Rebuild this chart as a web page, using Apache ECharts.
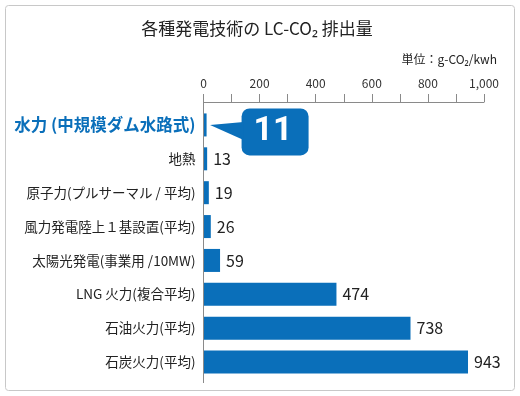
<!DOCTYPE html>
<html><head><meta charset="utf-8">
<script src="https://cdn.jsdelivr.net/npm/echarts@6/dist/echarts.min.js"></script>
<style>html,body{margin:0;padding:0;background:#fff}#c{width:520px;height:396px}</style>
</head><body><div id="c"></div>
<script>
const categories = ['水力 (中規模ダム水路式)','地熱','原子力(プルサーマル / 平均)','風力発電陸上１基設置(平均)','太陽光発電(事業用 /10MW)','LNG 火力(複合平均)','石油火力(平均)','石炭火力(平均)'];
const values = [11, 13, 19, 26, 59, 474, 738, 943];
const titleText = '各種発電技術の LC-CO₂ 排出量';
const unitText = '単位：g-CO₂/kwh';
const FONT = '"Noto Sans CJK JP", "Noto Sans", sans-serif';
const BLUE = '#0a6fba';

const chart = echarts.init(document.getElementById('c'));
chart.setOption({
  animation: false,
  textStyle: {fontFamily: FONT},
  title: [
    {text: titleText, left: 252, textAlign: 'center', top: 15, textStyle: {fontSize: 17, fontWeight: 'normal', color: '#222', fontFamily: FONT}},
    {text: unitText, right: 18, top: 48, textStyle: {fontSize: 12, fontWeight: 'normal', color: '#222', fontFamily: FONT}}
  ],
  grid: {left: 203.5, right: 36, top: 108, bottom: 17},
  xAxis: {
    type: 'value', position: 'top', min: 0, max: 1000, interval: 100, offset: 6,
    axisLine: {show: true, lineStyle: {color: '#8a8a8a'}},
    axisTick: {show: true, length: 8, lineStyle: {color: '#8a8a8a'}},
    splitLine: {show: false},
    axisLabel: {
      margin: 13, fontSize: 12, color: '#333', fontFamily: FONT,
      formatter: v => (v % 200 === 0) ? v.toLocaleString('en-US') : ''
    }
  },
  yAxis: {
    type: 'category', inverse: true,
    data: categories.map((c, i) => i === 0
      ? {value: c, textStyle: {color: BLUE, fontWeight: 'bold', fontSize: 16.5}}
      : c),
    axisLine: {show: false}, axisTick: {show: false},
    axisLabel: {margin: 8, fontSize: 13.5, color: '#222', fontFamily: FONT}
  },
  series: [{
    type: 'bar', barWidth: 23,
    itemStyle: {color: BLUE},
    data: values.map((v, i) => i === 0 ? {
      value: v,
      label: {
        show: true, position: 'right', distance: 35, offset: [0, 7],
        backgroundColor: BLUE, borderRadius: 8, padding: [6, 12, 4, 12],
        color: '#fff', fontSize: 34, fontWeight: 'bold', fontFamily: 'Roboto, sans-serif',
        width: 43, height: 37, align: 'left', lineHeight: 37
      }
    } : v),
    label: {show: true, position: 'right', distance: 6, fontSize: 16, color: '#222', fontFamily: FONT}
  }]
});

// axis line spanning the plot, and callout pointer
const x0 = chart.convertToPixel({xAxisIndex: 0}, 0);
const y0 = chart.convertToPixel({yAxisIndex: 0}, 0);
const xb = chart.convertToPixel({xAxisIndex: 0}, values[0]);
chart.setOption({
  graphic: [
    {type: 'rect', shape: {x: 5.5, y: 5.5, width: 509, height: 385, r: 3}, style: {fill: 'none', stroke: '#c8c8c8', lineWidth: 1}, silent: true, z: 0},
    {type: 'line', shape: {x1: x0, y1: 102, x2: x0, y2: 383}, style: {stroke: '#8a8a8a', lineWidth: 1}, z: 10},
    {type: 'polygon', shape: {points: [[xb + 3.5, y0], [xb + 37, y0 - 3], [xb + 37, y0 + 15]]}, style: {fill: BLUE}, z: 10}
  ]
});
</script></body></html>
